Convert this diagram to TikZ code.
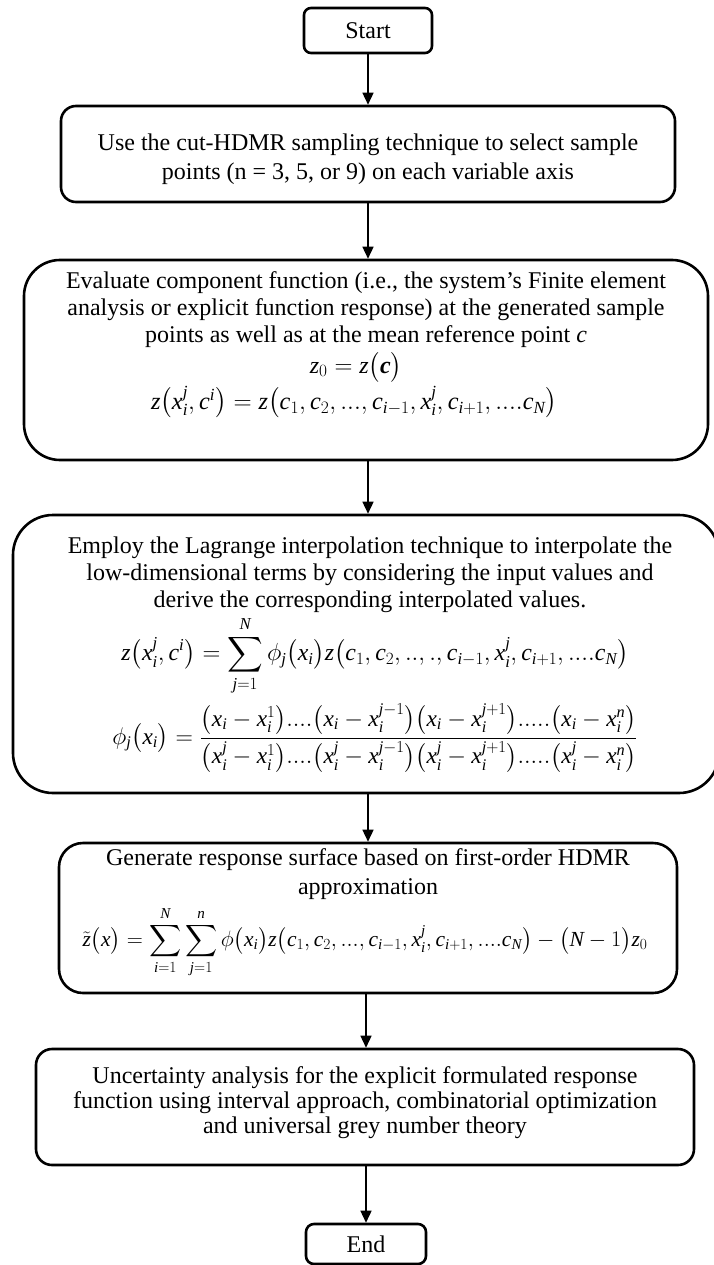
\documentclass[tikz,border=0pt]{standalone}
\usepackage{amsmath}
\usepackage{graphicx}
\usepackage{fontspec}
\setmainfont{Liberation Serif}
\newfontfamily\tnrfam[NFSSFamily=tnr]{Liberation Serif}
\DeclareSymbolFont{tnrit}{TU}{tnr}{m}{it}
\DeclareSymbolFont{tnrup}{TU}{tnr}{m}{n}
\DeclareMathSymbol{c}{\mathalpha}{tnrit}{`c}
\DeclareMathSymbol{i}{\mathalpha}{tnrit}{`i}
\DeclareMathSymbol{j}{\mathalpha}{tnrit}{`j}
\DeclareMathSymbol{n}{\mathalpha}{tnrit}{`n}
\DeclareMathSymbol{x}{\mathalpha}{tnrit}{`x}
\DeclareMathSymbol{z}{\mathalpha}{tnrit}{`z}
\DeclareMathSymbol{N}{\mathalpha}{tnrit}{`N}
\DeclareMathSymbol{0}{\mathalpha}{tnrup}{`0}
\DeclareMathSymbol{1}{\mathalpha}{tnrup}{`1}
\DeclareMathSymbol{2}{\mathalpha}{tnrup}{`2}
\usetikzlibrary{arrows.meta}
\tikzset{
  box/.style={draw, line width=2.6pt, inner sep=0pt},
  txt/.style={align=center, inner sep=0pt, font=\fontsize{24}{29}\selectfont},
  eq/.style={inner sep=0pt, font=\fontsize{24}{29}\selectfont},
  flow/.style={line width=1.5pt, -{Triangle[length=12pt,width=11pt]}}
}
\newcommand{\bc}{\mbox{\bfseries\itshape c}}
\begin{document}
\begin{tikzpicture}[x=1pt,y=-1pt]
\useasboundingbox (0,0) rectangle (714,1265);
\clip (0,0) rectangle (714,1265);
% boxes
\node[box, rounded corners=7pt, minimum width=128pt, minimum height=45pt, font=\fontsize{24}{29}\selectfont] (start) at (368,30.5) {Start};
\node[box, rounded corners=15pt, minimum width=614pt, minimum height=96pt] (b2) at (368,154) {};
\node[box, rounded corners=36pt, minimum width=684pt, minimum height=200pt] (b3) at (366,360) {};
\node[box, rounded corners=40pt, minimum width=706pt, minimum height=278pt] (b4) at (366,654) {};
\node[box, rounded corners=24pt, minimum width=618pt, minimum height=150pt] (b5) at (368,918) {};
\node[box, rounded corners=16pt, minimum width=658pt, minimum height=116pt] (b6) at (365,1107) {};
\node[box, rounded corners=8pt, minimum width=120pt, minimum height=40pt, font=\fontsize{24}{29}\selectfont] (end) at (366,1244) {End};
% texts
\node[txt] (t2) at (368,159)
 {Use the cut-HDMR sampling technique to select sample\\ points (n = 3, 5, or 9) on each variable axis};
\node[txt, font=\fontsize{24}{27}\selectfont] (t3) at (366,310)
 {Evaluate component function (i.e., the system’s Finite element\\
  analysis or explicit function response) at the generated sample\\
  points as well as at the mean reference point \textit{c}};
\node[eq] (e3a) at (356,367) {$z_0 = z\bigl(\bc\bigr)$};
\node[eq] (e3b) at (354,402) {\resizebox{406pt}{!}{$z\bigl(x_i^j, c^i\bigr) = z\bigl(c_1,c_2,...,c_{i-1},x_i^j,c_{i+1},....c_N\bigr)$}};
\node[txt, font=\fontsize{24}{27}\selectfont] (t4) at (370,575)
 {Employ the Lagrange interpolation technique to interpolate the\\
  low-dimensional terms by considering the input values and\\
  derive the corresponding interpolated values.};
\node[eq] (e4a) at (375,656) {\resizebox{507pt}{!}{$\displaystyle z\bigl(x_i^j, c^i\bigr) = \sum_{j=1}^{N}\phi_j\bigl(x_i\bigr)z\bigl(c_1,c_2,..,.,c_{i-1},x_i^j,c_{i+1},....c_N\bigr)$}};
\node[eq] (e4b) at (375,738) {\resizebox{525pt}{!}{$\displaystyle \phi_j\bigl(x_i\bigr) = \frac{\bigl(x_i-x_i^1\bigr)....\bigl(x_i-x_i^{j-1}\bigr)\bigl(x_i-x_i^{j+1}\bigr).....\bigl(x_i-x_i^n\bigr)}{\bigl(x_i^j-x_i^1\bigr)....\bigl(x_i^j-x_i^{j-1}\bigr)\bigl(x_i^j-x_i^{j+1}\bigr).....\bigl(x_i^j-x_i^n\bigr)}$}};
\node[txt] (t5) at (368,874)
 {Generate response surface based on first-order HDMR\\ approximation};
\node[eq] (e5) at (365,942) {\resizebox{565pt}{!}{$\displaystyle \tilde z\bigl(x\bigr) = \sum_{i=1}^{N}\sum_{j=1}^{n}\phi\bigl(x_i\bigr)z\bigl(c_1,c_2,...,c_{i-1},x_i^j,c_{i+1},....c_N\bigr)-\bigl(N-1\bigr)z_0$}};
\node[txt, font=\fontsize{24}{25}\selectfont] (t6) at (365,1103)
 {Uncertainty analysis for the explicit formulated response\\
  function using interval approach, combinatorial optimization\\
  and universal grey number theory};
% connectors
\draw[flow] (start.south) -- (start.south |- b2.north);
\draw[flow] (start.south |- b2.south) -- (start.south |- b3.north);
\draw[flow] (start.south |- b3.south) -- (start.south |- b4.north);
\draw[flow] (start.south |- b4.south) -- (start.south |- b5.north);
\draw[flow] (b5.south -| end.north) -- (end.north |- b6.north);
\draw[flow] (b6.south -| end.north) -- (end.north);
\end{tikzpicture}
\end{document}
